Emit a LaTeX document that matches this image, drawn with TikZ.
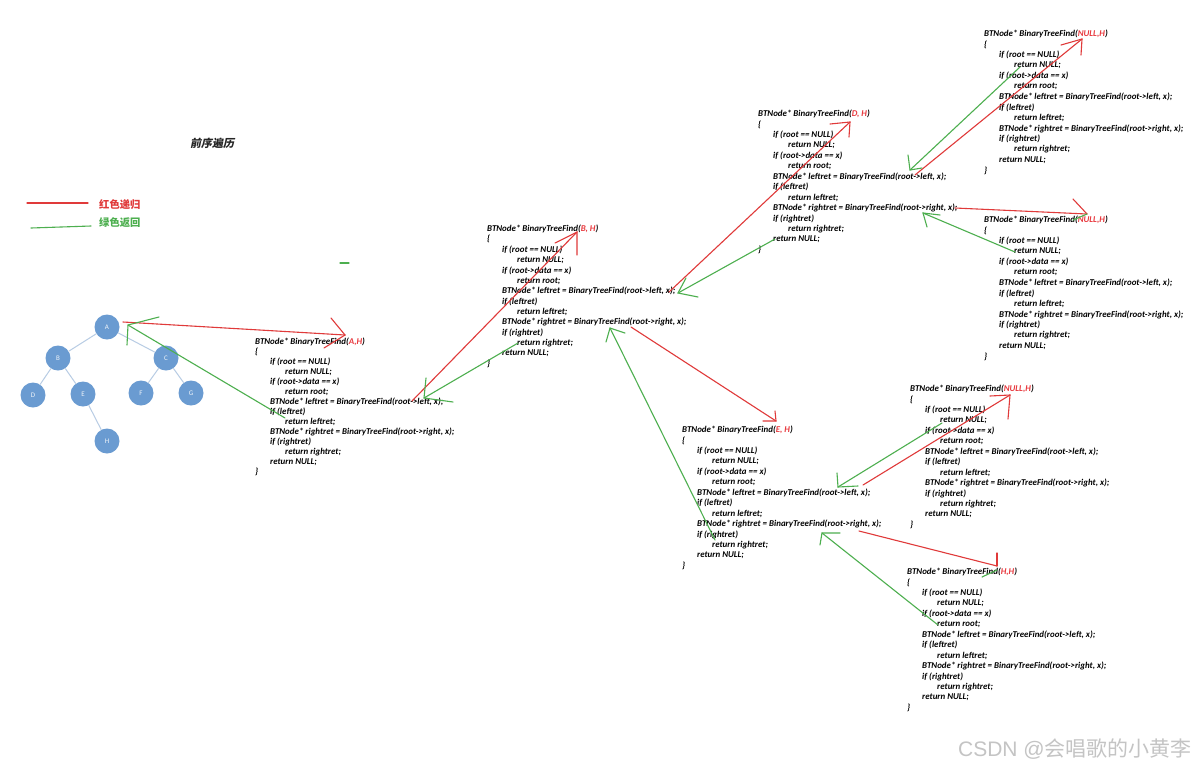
\documentclass[tikz,border=0pt]{standalone}
\usepackage{fontspec}
\setmainfont{Carlito}
\newfontfamily\cjk{Noto Sans CJK SC}
\newfontfamily\cjksl[FakeSlant=0.2]{Noto Sans CJK SC}
\newfontfamily\wmlatin{Liberation Sans}
\definecolor{argred}{HTML}{E8383D}
\definecolor{rline}{HTML}{E03A3A}
\definecolor{gline}{HTML}{4DAF4F}
\definecolor{nodeblue}{HTML}{6A9BD1}
\definecolor{edgeblue}{HTML}{B8CCE4}
\definecolor{wm}{HTML}{C4C4C4}
\tikzset{
  code/.style={font=\fontsize{8.9}{9}\selectfont\bfseries\itshape, inner sep=0pt, anchor=west, text=black},
  tnode/.style={circle, fill=nodeblue, minimum size=25pt, inner sep=0pt, font=\fontsize{7}{7}\selectfont, text=white!90!nodeblue},
  tedge/.style={draw=edgeblue, line width=1pt},
  redarrow/.style={draw=rline, line width=1.1pt, line cap=round},
  greenarrow/.style={draw=gline, line width=1.1pt, line cap=round},
}
% #1 name, #2 x, #3 y, #4 args, #5 spacing
\newcommand\cblock[5]{%
  \node[code] (#1-0) at (#2,#3) {BTNode* BinaryTreeFind(\textcolor{argred}{#4})};
  \foreach \lv/\tx [count=\i] in {0/\{, 1/{if (root == NULL)}, 2/{return NULL;}, 1/{if (root->data == x)}, 2/{return root;}, 1/{BTNode* leftret = BinaryTreeFind(root->left, x);}, 1/{if (leftret)}, 2/{return leftret;}, 1/{BTNode* rightret = BinaryTreeFind(root->right, x);}, 1/{if (rightret)}, 2/{return rightret;}, 1/{return NULL;}, 0/\}}{
    \node[code] (#1-\i) at ({#2+15*\lv},{#3+#5*\i}) {\tx};
  }%
}
% #1 style, #2 name, #3 start, #4 head, #5 tip1, #6 tip2
\newcommand\harrow[6]{%
  \coordinate (#2-s) at (#3);
  \coordinate (#2-h) at (#4);
  \coordinate (#2-a) at (#5);
  \coordinate (#2-b) at (#6);
  \draw[#1] (#2-s) -- (#2-h);
  \draw[#1] (#2-a) -- (#2-h) -- (#2-b);
}
\begin{document}
\begin{tikzpicture}[x=1pt,y=-1pt]
\useasboundingbox[fill=white] (0,0) rectangle (1196,769);

% title and legend
\node[font=\cjksl\bfseries\fontsize{11}{11}\selectfont, text=black!85] (title) at (212,143) {前序遍历};
\coordinate (lr1) at (27,203); \coordinate (lr2) at (88,203);
\draw[redarrow] (lr1) -- (lr2);
\node[anchor=west, font=\cjk\bfseries\fontsize{10.3}{10}\selectfont, text=rline, inner sep=0pt] (legr) at (99,205) {红色递归};
\coordinate (lg1) at (31,228); \coordinate (lg2) at (91,226);
\draw[greenarrow] (lg1) -- (lg2);
\node[anchor=west, font=\cjk\bfseries\fontsize{10.3}{10}\selectfont, text=gline, inner sep=0pt] (legg) at (99,223) {绿色返回};
\coordinate (gd1) at (340,263); \coordinate (gd2) at (349,263);
\draw[greenarrow] (gd1) -- (gd2);

% tree
\node[tnode] (A) at (107,327) {A};
\node[tnode] (B) at (58,358) {B};
\node[tnode] (C) at (166,358) {C};
\node[tnode] (D) at (33,395) {D};
\node[tnode] (E) at (83,394) {E};
\node[tnode] (F) at (141,393) {F};
\node[tnode] (G) at (191,393) {G};
\node[tnode] (H) at (107,441) {H};
\draw[tedge] (A) -- (B); \draw[tedge] (A) -- (C);
\draw[tedge] (B) -- (D); \draw[tedge] (B) -- (E);
\draw[tedge] (C) -- (F); \draw[tedge] (C) -- (G);
\draw[tedge] (E) -- (H);

% code blocks
\cblock{AH}{255}{342}{A,H}{10.0}
\cblock{BH}{487}{229}{B, H}{10.38}
\cblock{DH}{758}{114}{D, H}{10.45}
\cblock{NA}{984}{34}{NULL,H}{10.5}
\cblock{NB}{984}{220}{NULL,H}{10.5}
\cblock{EH}{682}{430}{E, H}{10.45}
\cblock{NC}{910}{389}{NULL,H}{10.45}
\cblock{HH}{907}{572}{H,H}{10.45}

% red recursion arrows
\harrow{redarrow}{r1}{123,322}{345,335}{331,318}{324,348}
\harrow{redarrow}{r2}{412,401}{577,232}{555,243}{577,255}
\harrow{redarrow}{r3}{669,292}{850,122}{830,124}{849,137}
\harrow{redarrow}{r4}{915,175}{1082,39}{1061,45}{1081,55}
\harrow{redarrow}{r5}{955,208}{1087,214}{1073,199}{1087,214}
\harrow{redarrow}{r6}{631,327}{776,421}{775,411}{763,421}
\harrow{redarrow}{r7}{863,485}{1010,395}{990,396}{1008,419}
\harrow{redarrow}{r8}{859,531}{997,566}{997,553}{997,566}

% green return arrows
\harrow{greenarrow}{g1}{285,418}{128,325}{127,345}{159,317}
\harrow{greenarrow}{g2}{518,343}{424,398}{426,378}{453,402}
\harrow{greenarrow}{g3}{775,239}{678,293}{686,278}{698,297}
\harrow{greenarrow}{g4}{1020,67}{910,170}{908,155}{922,168}
\harrow{greenarrow}{g5}{1015,252}{923,213}{927,227}{940,215}
\harrow{greenarrow}{g6}{715,540}{610,328}{606,342}{625,333}
\harrow{greenarrow}{g7}{942,423}{838,487}{837,473}{858,486}
\harrow{greenarrow}{g8}{938,625}{822,533}{820,545}{840,533}
\coordinate (gx1) at (1073,220); \coordinate (gx2) at (1087,214);
\draw[greenarrow] (gx1) -- (gx2);
\coordinate (gy1) at (982,577); \coordinate (gy2) at (997,570);
\draw[greenarrow] (gy1) -- (gy2);

% watermark
\node[anchor=east, font=\cjk\fontsize{21}{21}\selectfont, text=wm, inner sep=0pt] (wmark) at (1192,749) {{\wmlatin CSDN @}会唱歌的小黄李};
\end{tikzpicture}
\end{document}
